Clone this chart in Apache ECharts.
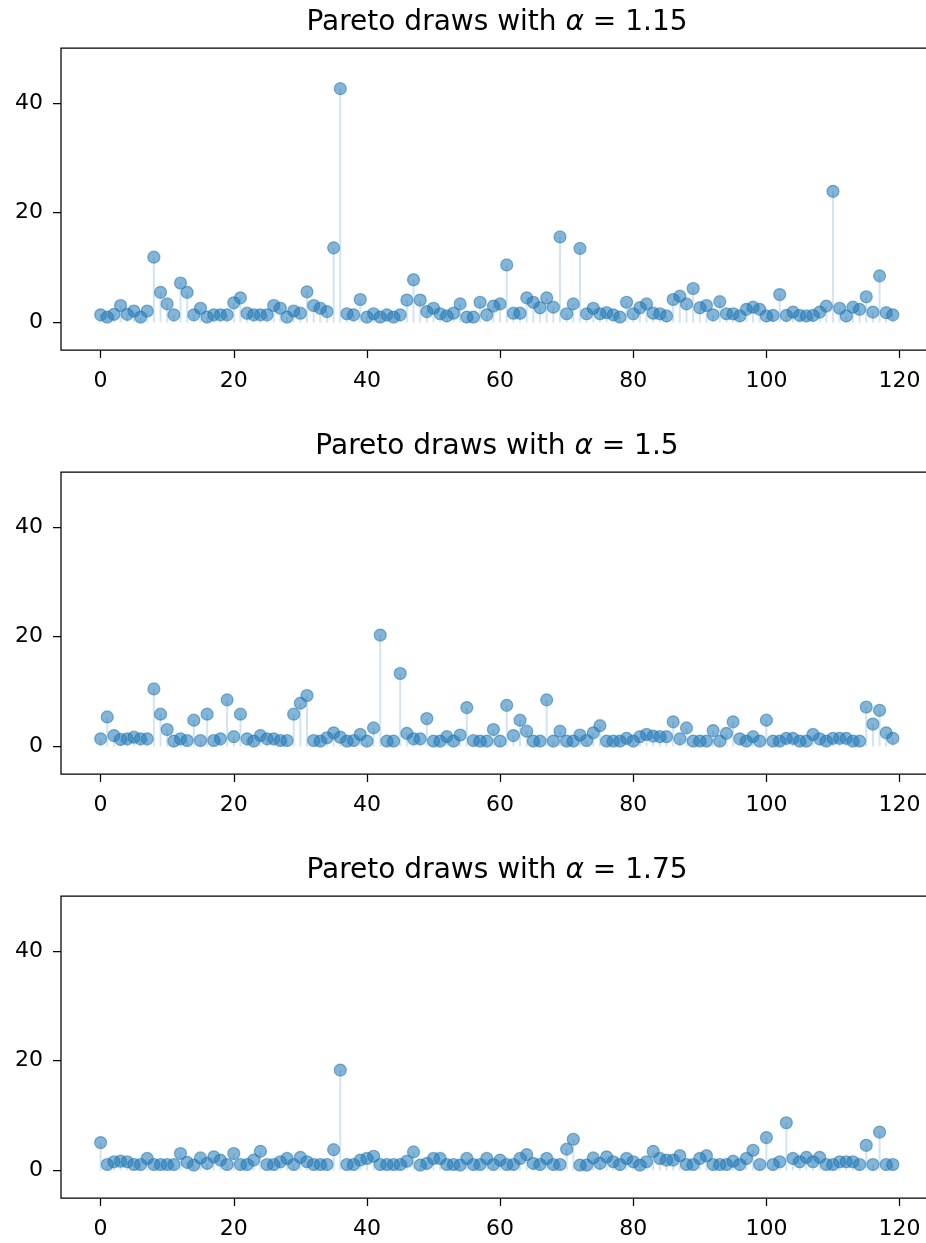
<!DOCTYPE html>
<html>
<head>
<meta charset="utf-8">
<script src="https://cdn.jsdelivr.net/npm/echarts@6/dist/echarts.min.js"></script>
<style>
html,body{margin:0;padding:0;background:#fff;overflow:hidden;}
#main{width:940px;height:1243px;}
</style>
</head>
<body>
<div id="main"></div>
<script>
// ---- data ----
const alphas = ['1.15', '1.5', '1.75'];
const xTicks = [0, 20, 40, 60, 80, 100, 120];
const yTicks = [0, 20, 40];

const draws115 = [
 1.4,1.0,1.5,3.1,1.5,2.1,1.0,2.1,11.9,5.5,
 3.4,1.4,7.2,5.5,1.4,2.6,1.0,1.4,1.4,1.4,
 3.6,4.5,1.7,1.4,1.4,1.4,3.1,2.6,1.0,2.1,
 1.7,5.6,3.1,2.6,2.0,13.6,42.6,1.6,1.4,4.2,
 1.0,1.6,1.0,1.4,1.0,1.4,4.1,7.8,4.1,2.0,
 2.6,1.6,1.2,1.7,3.4,1.0,1.0,3.7,1.4,3.0,
 3.4,10.5,1.7,1.7,4.5,3.7,2.7,4.5,2.8,15.6,
 1.6,3.4,13.5,1.6,2.6,1.6,1.8,1.4,1.0,3.7,
 1.6,2.7,3.4,1.7,1.6,1.2,4.2,4.8,3.4,6.2,
 2.7,3.1,1.4,3.8,1.6,1.6,1.2,2.4,2.8,2.4,
 1.2,1.3,5.1,1.3,1.9,1.3,1.2,1.3,1.9,3.0,
 23.9,2.6,1.2,2.8,2.4,4.7,1.9,8.5,1.8,1.4
];
const draws150 = [
 1.4,5.4,2.0,1.3,1.4,1.7,1.4,1.4,10.5,5.9,
 3.1,1.0,1.4,1.1,4.8,1.1,5.9,1.1,1.4,8.5,
 1.8,5.9,1.4,1.0,2.0,1.4,1.4,1.1,1.1,5.9,
 7.9,9.3,1.1,1.0,1.6,2.5,1.7,1.0,1.1,2.2,
 1.0,3.4,20.3,1.0,1.0,13.3,2.4,1.4,1.4,5.1,
 1.0,1.0,1.8,1.0,2.1,7.1,1.1,1.0,1.0,3.1,
 1.0,7.5,2.0,4.8,2.8,1.0,1.0,8.5,1.0,2.8,
 1.0,1.0,2.1,1.1,2.5,3.8,1.0,1.0,1.0,1.5,
 1.0,1.8,2.2,1.9,1.8,1.8,4.5,1.4,3.4,1.0,
 1.0,1.0,2.9,1.0,2.4,4.5,1.4,1.0,1.8,1.0,
 4.8,1.0,1.0,1.5,1.5,1.0,1.0,2.2,1.4,1.0,
 1.5,1.5,1.5,1.0,1.0,7.2,4.1,6.6,2.5,1.5
];
const draws175 = [
 5.1,1.1,1.6,1.7,1.6,1.1,1.1,2.2,1.1,1.1,
 1.1,1.1,3.1,1.5,1.0,2.3,1.3,2.5,1.9,1.1,
 3.1,1.1,1.1,1.9,3.5,1.1,1.1,1.6,2.2,1.1,
 2.4,1.6,1.1,1.1,1.1,3.8,18.3,1.1,1.1,1.9,
 2.2,2.6,1.1,1.1,1.1,1.1,1.7,3.4,1.0,1.3,
 2.2,2.2,1.1,1.1,1.0,2.2,1.1,1.1,2.2,1.1,
 1.9,1.1,1.1,2.2,2.9,1.3,1.1,2.2,1.1,1.1,
 3.9,5.7,1.0,1.0,2.3,1.3,2.5,1.6,1.1,2.2,
 1.6,1.0,1.6,3.5,2.2,1.9,1.9,2.7,1.1,1.1,
 2.2,2.7,1.1,1.1,1.1,1.7,1.1,2.2,3.7,1.1,
 6.0,1.1,1.6,8.7,2.2,1.6,2.4,1.6,2.4,1.1,
 1.1,1.6,1.6,1.6,1.1,4.6,1.1,7.0,1.1,1.1
];
const panels = [draws115, draws150, draws175];

// ---- layout ----
const FONT = 'DejaVu Sans';
const gridTops = [48, 472, 896];
const gridH = 302;
const blue = '#1f77b4';

const chart = echarts.init(document.getElementById('main'), null, {renderer: 'canvas'});

const grids = [], xAxes = [], yAxes = [], series = [], titles = [];
panels.forEach((vals, k) => {
  const pts = vals.map((v, i) => [i, v]);
  grids.push({left: 61, width: 871.5, top: gridTops[k], height: gridH,
    show: true, borderColor: '#000', borderWidth: 1.25, backgroundColor: 'transparent', containLabel: false});
  xAxes.push({type: 'value', gridIndex: k, min: -5.95, max: 124.95, position: 'bottom',
    axisLine: {show: false, onZero: false},
    splitLine: {show: false},
    axisTick: {show: true, customValues: xTicks, length: 8, lineStyle: {color: '#000', width: 1.25}},
    axisLabel: {show: true, customValues: xTicks, margin: 20, color: '#000', fontFamily: FONT, fontSize: 22}
  });
  yAxes.push({type: 'value', gridIndex: k, min: -5, max: 50, position: 'left',
    axisLine: {show: false, onZero: false},
    splitLine: {show: false},
    axisTick: {show: true, customValues: yTicks, length: 8, lineStyle: {color: '#000', width: 1.25}},
    axisLabel: {show: true, customValues: yTicks, margin: 18, color: '#000', fontFamily: FONT, fontSize: 22}
  });
  series.push({
    type: 'custom', xAxisIndex: k, yAxisIndex: k, data: pts, silent: true,
    encode: {x: 0, y: 1},
    renderItem: function (params, api) {
      const x = api.value(0), y = api.value(1);
      const p0 = api.coord([x, 0]);
      const p1 = api.coord([x, y]);
      return {type: 'line', shape: {x1: p0[0], y1: p0[1], x2: p1[0], y2: p1[1]},
        style: {stroke: 'rgba(31,119,180,0.2)', lineWidth: 2}};
    }
  });
  series.push({
    type: 'scatter', xAxisIndex: k, yAxisIndex: k, data: pts, symbol: 'circle', symbolSize: 12,
    silent: true,
    itemStyle: {color: blue, borderColor: blue, borderWidth: 1.2, opacity: 0.55}
  });
  titles.push({
    text: 'Pareto draws with {a|α} = ' + alphas[k],
    left: 492, top: gridTops[k] - 44, textAlign: 'center',
    textStyle: {fontFamily: FONT, fontSize: 28, fontWeight: 'normal', color: '#000',
      rich: {a: {fontFamily: FONT, fontSize: 28, fontStyle: 'italic', color: '#000'}}}
  });
});

chart.setOption({
  animation: false,
  backgroundColor: '#fff',
  title: titles,
  grid: grids,
  xAxis: xAxes,
  yAxis: yAxes,
  series: series
});
</script>
</body>
</html>
